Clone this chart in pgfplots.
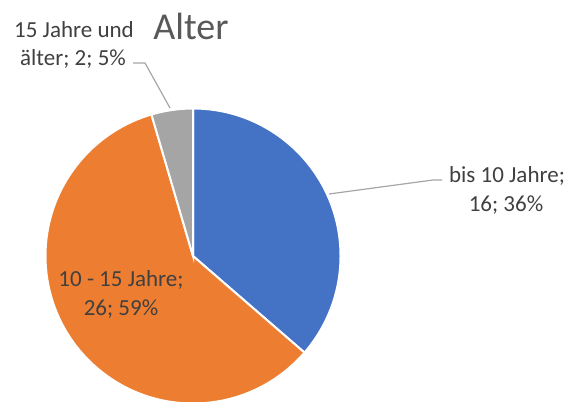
\documentclass[border=0pt]{standalone}
\usepackage{fontspec}
\setmainfont{Carlito}
\usepackage{pgfplots}
\usepackage{pgfplotstable}
\pgfplotsset{compat=1.18}

\definecolor{cblue}{HTML}{4472C4}
\definecolor{corange}{HTML}{ED7D31}
\definecolor{cgray}{HTML}{A5A5A5}
\definecolor{ctext}{HTML}{404040}
\definecolor{ctitle}{HTML}{595959}
\definecolor{cline}{HTML}{A6A6A6}

\pgfplotstableread{
label value
bis10 16
10bis15 26
ab15 2
}\agedata

\pgfplotstablegetelem{0}{value}\of\agedata \let\va\pgfplotsretval
\pgfplotstablegetelem{1}{value}\of\agedata \let\vb\pgfplotsretval
\pgfplotstablegetelem{2}{value}\of\agedata \let\vc\pgfplotsretval
\pgfmathsetmacro\total{\va+\vb+\vc}
% angles, clockwise from the top
\pgfmathsetmacro\aA{90}
\pgfmathsetmacro\aB{90-360*\va/\total}
\pgfmathsetmacro\aC{\aB-360*\vb/\total}
\pgfmathsetmacro\aD{\aC-360*\vc/\total}

\begin{document}
\begin{tikzpicture}
\begin{axis}[
  x=1bp, y=1bp,
  xmin=0, xmax=571, ymin=0, ymax=401,
  hide axis,
]
\def\r{147.5bp}
\fill[cblue, draw=white, line width=2bp] (193,145) -- ++(\aA:\r) arc[start angle=\aA, end angle=\aB, radius=\r] -- cycle;
\fill[corange, draw=white, line width=2bp] (193,145) -- ++(\aB:\r) arc[start angle=\aB, end angle=\aC, radius=\r] -- cycle;
\fill[cgray, draw=white, line width=2bp] (193,145) -- ++(\aC:\r) arc[start angle=\aC, end angle=\aD, radius=\r] -- cycle;

% leader lines
\draw[cline, line width=1.2bp] (329,207) -- (433,221) -- (442,221);
\draw[cline, line width=1.2bp] (170,293) -- (145,338) -- (133,338);

\begin{scope}[every node/.style={text=ctext, font=\fontsize{23bp}{27bp}\selectfont, anchor=base, inner sep=0pt}]
\node at (507,219) {bis 10 Jahre;};
\node at (506,190) {16; 36\%};
\node at (74,364) {15 Jahre und};
\node at (73,336) {älter; 2; 5\%};
\node at (121,115) {10 - 15 Jahre;};
\node at (121,86) {26; 59\%};
\end{scope}
\node[text=ctitle, font=\fontsize{38bp}{42bp}\selectfont, anchor=base, inner sep=0pt] at (191,362) {Alter};
\end{axis}
\pgfresetboundingbox
\useasboundingbox (current axis.south west) rectangle (current axis.north east);
\end{tikzpicture}
\end{document}
